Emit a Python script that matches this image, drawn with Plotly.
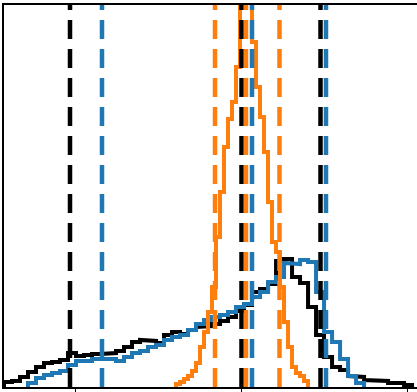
import numpy as np
import plotly.graph_objects as go

# Shared binning of the two wide distributions (x units, tick spacing = 1)
BIN_WIDTH = 0.0482
BLACK_START = -1.4307
BLUE_START = BLACK_START + 3 * BIN_WIDTH

# Narrow distribution uses half-width bins
ORANGE_WIDTH = 0.0241
ORANGE_START = -0.3946

BLACK_COUNTS = [5, 6, 10, 15, 20, 24, 25, 27, 34, 31, 32, 33, 33, 34, 36, 40, 45,
                47, 46, 44, 52, 55, 53, 57, 60, 61, 63, 66, 70, 76, 82, 95, 98, 103,
                126, 128, 110, 104, 80, 52, 30, 20, 17, 11, 10, 7, 7, 6, 4, 4, 2]

BLUE_COUNTS = [4, 9, 12, 14, 16, 22, 26, 26, 28, 29, 28, 26, 30, 34, 36, 40, 42, 47,
               50, 52, 57, 63, 67, 70, 72, 75, 80, 83, 90, 95, 105, 110, 124, 123,
               127, 125, 95, 55, 45, 28, 11, 4]

ORANGE_COUNTS = [3, 5, 8, 11, 16, 24, 40, 55, 75, 100, 150, 195, 240, 268, 285, 320,
                 390, 390, 390, 345, 300, 270, 235, 185, 145, 135, 100, 65, 40, 20,
                 14, 11, 6]

# Interval markers (lower, centre, upper) for each distribution
BLACK_LINES = [-1.0331, 0.0, 0.4759]
BLUE_LINES = [-0.8404, 0.0633, 0.5090]
ORANGE_LINES = [-0.1596, 0.0271, 0.2289]

TICKS = [-1, 0, 1]

COLORS = {"black": "#000000", "blue": "#1f77b4", "orange": "#ff7f0e"}


def step_xy(start, width, counts):
    """Outline of a step histogram, closed down to zero at both ends."""
    counts = np.asarray(counts, dtype=float)
    edges = start + width * np.arange(len(counts) + 1)
    x = np.repeat(edges, 2)
    y = np.concatenate([[0.0], np.repeat(counts, 2), [0.0]])
    return x, y


fig = go.Figure()

for name, start, width, counts in [
    ("black", BLACK_START, BIN_WIDTH, BLACK_COUNTS),
    ("blue", BLUE_START, BIN_WIDTH, BLUE_COUNTS),
    ("orange", ORANGE_START, ORANGE_WIDTH, ORANGE_COUNTS),
]:
    x, y = step_xy(start, width, counts)
    fig.add_trace(go.Scatter(x=x, y=y, mode="lines",
                             line=dict(color=COLORS[name], width=4),
                             showlegend=False, hoverinfo="skip"))

for name, xs in [("black", BLACK_LINES), ("blue", BLUE_LINES), ("orange", ORANGE_LINES)]:
    for xv in xs:
        fig.add_vline(x=xv, line=dict(color=COLORS[name], width=4.5, dash="19px,10px"))

fig.update_xaxes(range=[-1.4307, 1.0572], showline=True, linecolor="#000000",
                 linewidth=1.5, mirror=True, ticks="outside", ticklen=4,
                 tickwidth=1.2, tickcolor="#000000", tickvals=TICKS,
                 showticklabels=False, showgrid=False, zeroline=False)
fig.update_yaxes(range=[0, 382], showline=True, linecolor="#000000", linewidth=1.5,
                 ticks="", showticklabels=False, showgrid=False, zeroline=False)

fig.update_layout(width=417, height=392, margin=dict(l=4, r=0, t=5, b=5),
                  paper_bgcolor="white", plot_bgcolor="white")

fig.write_html("out.html")
